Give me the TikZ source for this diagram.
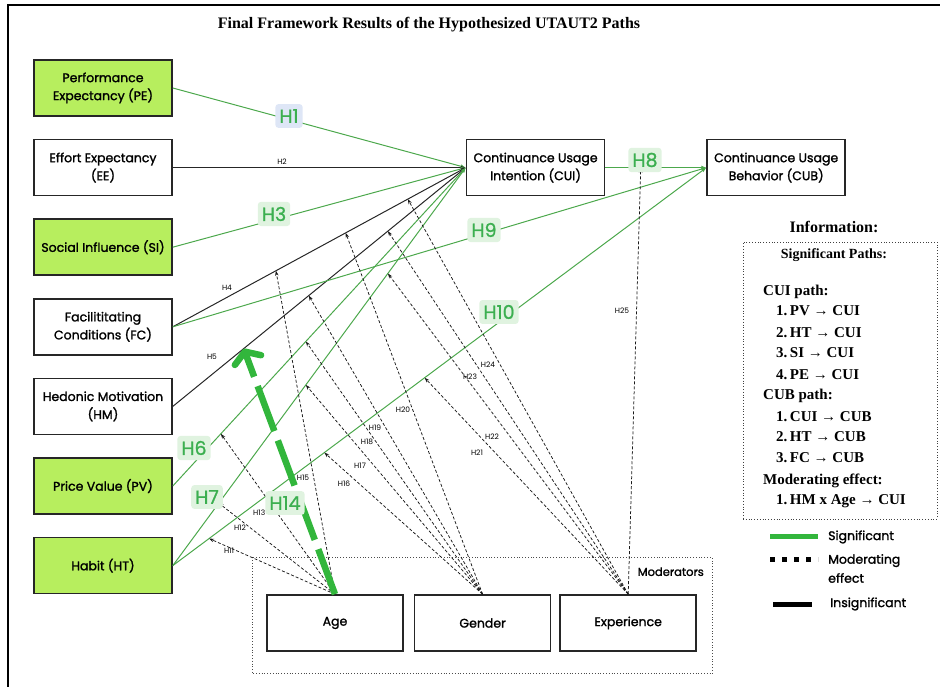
\documentclass[tikz,border=0pt]{standalone}
\usepackage{fontspec}
\setmainfont{Liberation Serif}
\newfontfamily\boxfont[FakeBold=1.5]{Poppins}
\newfontfamily\tagfont{Poppins}
\newfontfamily\hypfont[FakeBold=1]{Poppins}
\usetikzlibrary{arrows.meta, positioning, calc}

\definecolor{limefill}{RGB}{183,238,94}
\definecolor{sigline}{RGB}{76,168,76}
\definecolor{labeltext}{RGB}{60,175,80}
\definecolor{labelbg}{RGB}{224,243,224}
\definecolor{bluebg}{RGB}{222,230,246}
\definecolor{boldgreen}{RGB}{50,182,60}

\begin{document}
\begin{tikzpicture}[
    x=1pt, y=1pt,
    node distance=22pt and 10pt,
    construct/.style={rectangle, draw=black!85, line width=1.6pt, align=center, minimum width=138pt, minimum height=56pt, fill=white, font=\boxfont\fontsize{12.5}{18}\selectfont},
    sigconstruct/.style={construct, fill=limefill},
    moderator/.style={construct, minimum width=136pt},
    sigpath/.style={-{Latex[length=5pt,width=4pt]}, line width=1pt, draw=sigline},
    insigpath/.style={-{Latex[length=5pt,width=4pt]}, line width=1pt, draw=black!85},
    modpath/.style={-{Stealth[length=5pt,width=3.5pt]}, densely dashed, line width=0.75pt, draw=black!90},
    hyplabel/.style={rectangle, rounded corners=3pt, fill=labelbg, text=labeltext, inner xsep=4pt, inner ysep=5pt, font=\hypfont\fontsize{19}{19}\selectfont},
    tinylabel/.style={font=\tagfont\fontsize{7.5}{8}\selectfont, inner sep=0pt},
    legendtext/.style={font=\bfseries\fontsize{15}{21}\selectfont, inner sep=0pt},
    keytext/.style={font=\boxfont\fontsize{12.5}{19}\selectfont, inner sep=0pt, anchor=west, align=left}
]
\useasboundingbox (0,0) rectangle (940,686);

% 0. Frame and title
\draw[line width=1.4pt] (8,-20) rectangle (960,681);
\node[font=\bfseries\fontsize{16}{18}\selectfont] (title) at (429,661) {Final Framework Results of the Hypothesized UTAUT2 Paths};

% 1. Exogenous constructs
\node[sigconstruct] (pe) at (103,598) {Performance\\ Expectancy (PE)};
\node[construct, below=of pe] (ee) {Effort Expectancy\\ (EE)};
\node[sigconstruct, below=of ee] (si) {Social Influence (SI)};
\node[construct, below=of si] (fc) {Facilititating\\ Conditions (FC)};
\node[construct, below=of fc] (hm) {Hedonic Motivation\\ (HM)};
\node[sigconstruct, below=of hm] (pv) {Price Value (PV)};
\node[sigconstruct, below=of pv] (ht) {Habit (HT)};

% 2. Endogenous constructs
\node[construct, right=293pt of ee] (cui) {Continuance Usage\\ Intention (CUI)};
\node[construct, right=101pt of cui] (cub) {Continuance Usage\\ Behavior (CUB)};

% 3. Moderators
\node[moderator] (age) at (335,63) {Age};
\node[moderator, right=of age] (gender) {Gender};
\node[moderator, right=8pt of gender] (exper) {Experience};
\draw[dotted, line width=0.8pt, draw=black!70] ($(age.north west)+(-14,37)$) rectangle ($(exper.south east)+(15,-22)$);
\node[font=\boxfont\fontsize{11.5}{13}\selectfont, anchor=north east, inner sep=0pt] (modtitle) at ($(exper.north east)+(7,27)$) {Moderators};

% 4. Structural paths
\draw[sigpath] (pe.east) -- (cui.west);
\draw[insigpath] (ee.east) -- (cui.west);
\draw[sigpath] (si.east) -- (cui.west);
\draw[insigpath] (fc.east) -- (cui.west);
\draw[insigpath] (hm.east) -- (cui.west);
\draw[sigpath] (pv.east) -- (cui.west);
\draw[sigpath] (ht.east) -- (cui.west);
\draw[sigpath] (cui.east) -- (cub.west);
\draw[sigpath] (fc.east) -- (cub.west);
\draw[sigpath] (ht.east) -- (cub.west);

% 5. Moderating effects
% Age
\draw[modpath] (age.north) -- ($(ht.east)!0.068!(cub.west)$);
\draw[modpath] (age.north) -- ($(ht.east)!0.157!(cui.west)$);
\draw[modpath] (age.north) -- ($(pv.east)!0.164!(cui.west)$);
\draw[modpath] (age.north) -- ($(fc.east)!0.352!(cui.west)$);
% Gender
\draw[modpath] (gender.north) -- ($(ht.east)!0.284!(cub.west)$);
\draw[modpath] (gender.north) -- ($(ht.east)!0.454!(cui.west)$);
\draw[modpath] (gender.north) -- ($(pv.east)!0.454!(cui.west)$);
\draw[modpath] (gender.north) -- ($(hm.east)!0.464!(cui.west)$);
\draw[modpath] (gender.north) -- ($(fc.east)!0.590!(cui.west)$);
% Experience
\draw[modpath] (exper.north) -- ($(ht.east)!0.472!(cub.west)$);
\draw[modpath] (exper.north) -- ($(ht.east)!0.734!(cui.west)$);
\draw[modpath] (exper.north) -- ($(hm.east)!0.734!(cui.west)$);
\draw[modpath] (exper.north) -- ($(fc.east)!0.802!(cui.west)$);
\draw[modpath] (exper.north) -- ($(cui.east)!0.35!(cub.west)$);

% 6. Small hypothesis labels
\node[tinylabel] (h2) at (282,524) {H2};
\node[tinylabel] (h4) at (227,398) {H4};
\node[tinylabel] (h5) at (212,329) {H5};
\node[tinylabel] (h11) at (229,135) {H11};
\node[tinylabel] (h12) at (240,158) {H12};
\node[tinylabel, anchor=west] (h13) at (253,173) {H13};
\node[tinylabel] (h15) at (303,208) {H15};
\node[tinylabel] (h16) at (344,202) {H16};
\node[tinylabel] (h17) at (360,220) {H17};
\node[tinylabel] (h18) at (367,244) {H18};
\node[tinylabel] (h19) at (375,258) {H19};
\node[tinylabel] (h20) at (403,276) {H20};
\node[tinylabel] (h21) at (477,233) {H21};
\node[tinylabel] (h22) at (492,249) {H22};
\node[tinylabel] (h23) at (470,309) {H23};
\node[tinylabel] (h24) at (488,321) {H24};
\node[tinylabel] (h25) at (622,375) {H25};

% 7. Significant moderation (HM x Age)
\draw[line width=6.5pt, draw=boldgreen, dash pattern=on 48pt off 10pt, -{Straight Barb[length=9pt, width=28pt, round]}] (age.north) -- ($(hm.east)!0.242!(cui.west)$);

% 8. Significant hypothesis labels
\node[hyplabel, fill=bluebg] (h1) at (289,570) {H1};
\node[hyplabel] (h3) at (274,472) {H3};
\node[hyplabel] (h6) at (194,238) {H6};
\node[hyplabel] (h7) at (207,189) {H7};
\node[hyplabel] (h8) at (645,526) {H8};
\node[hyplabel] (h9) at (484,456) {H9};
\node[hyplabel] (h10) at (499,374) {H10};
\node[hyplabel] (h14) at (285,183) {H14};

% 9. Information box
\node[legendtext, font=\bfseries\fontsize{16}{18}\selectfont] (info) at (834,459) {Information:};
\node[draw=black!75, dotted, line width=0.8pt, minimum width=194pt, minimum height=277pt] (infobox) at (840,305.5) {};
\node[legendtext, font=\bfseries\fontsize{14}{18}\selectfont] (sigtitle) at (834,431) {Significant Paths:};
\node[legendtext, anchor=base west, align=left] (pathlist) at (763,181) {CUI path:\\
  \hspace*{13pt}1.\,PV → CUI\\
  \hspace*{13pt}2.\,HT → CUI\\
  \hspace*{13pt}3.\,SI → CUI\\
  \hspace*{13pt}4.\,PE → CUI\\
  CUB path:\\
  \hspace*{13pt}1.\,CUI → CUB\\
  \hspace*{13pt}2.\,HT → CUB\\
  \hspace*{13pt}3.\,FC → CUB\\
  Moderating effect:\\
  \hspace*{13pt}1.\,HM x Age → CUI};

% 10. Legend keys
\draw[line width=5pt, draw=boldgreen] (770,149) -- (818,149);
\draw[line width=5pt, dash pattern=on 5pt off 7pt] (770,127) -- (818,127);
\draw[line width=5pt] (773,82) -- (812,82);
\node[keytext] (keysig) at (828,149) {Significant};
\node[keytext] (keymod) at (828,117.5) {Moderating\\ effect};
\node[keytext] (keyinsig) at (830,82) {Insignificant};

\end{tikzpicture}
\end{document}
